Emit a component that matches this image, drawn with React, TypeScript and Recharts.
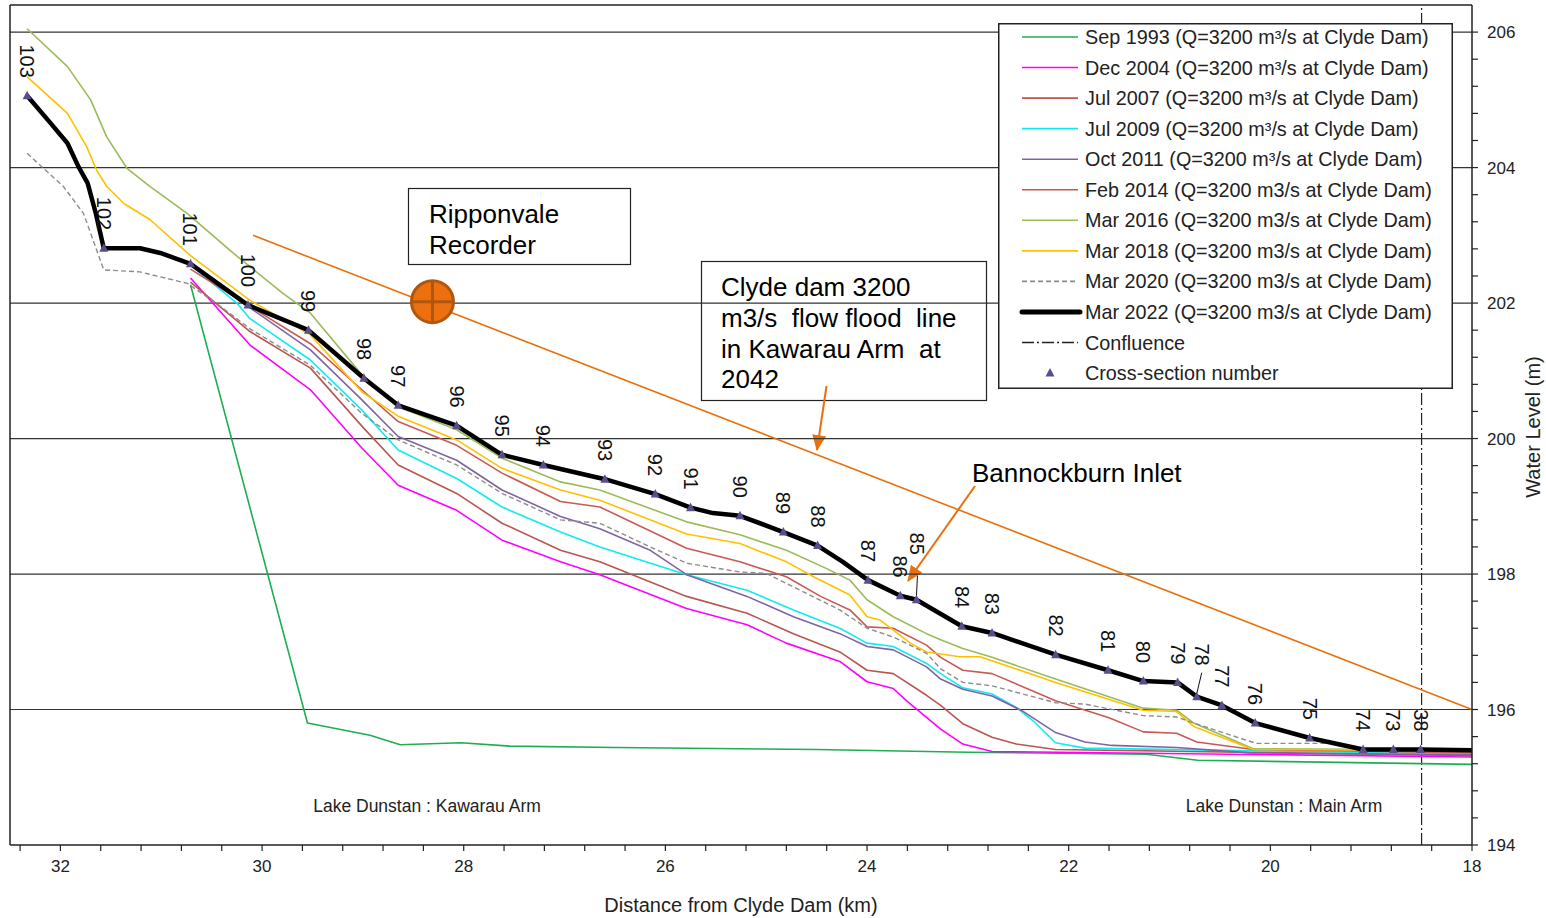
import React from 'react';
import {
  ComposedChart,
  Line,
  Scatter,
  XAxis,
  YAxis,
  ReferenceLine,
  ReferenceDot,
  Legend,
} from 'recharts';

// water level (m) against distance from Clyde Dam (km)
type Row = [number, number];

const SEP_1993: Row[] = [
  [30.71, 202.27], [29.55, 195.8], [28.93, 195.62], [28.63, 195.48], [28.03, 195.51],
  [27.54, 195.46], [26.5, 195.44], [24.5, 195.41], [23.0, 195.37], [21.23, 195.34],
  [20.72, 195.25], [18.0, 195.19],
];

const DEC_2004: Row[] = [
  [30.71, 202.37], [30.12, 201.38], [29.52, 200.72], [29.01, 199.86], [28.65, 199.31],
  [28.07, 198.94], [27.62, 198.5], [27.04, 198.18], [26.65, 197.99], [25.79, 197.49],
  [25.19, 197.25], [24.8, 196.98], [24.27, 196.71], [24.0, 196.41], [23.74, 196.31],
  [23.61, 196.13], [23.27, 195.71], [23.05, 195.49], [22.76, 195.38], [18.0, 195.3],
];

const JUL_2007: Row[] = [
  [30.71, 202.31], [30.12, 201.58], [29.52, 201.04], [28.99, 200.15], [28.65, 199.61],
  [28.07, 199.19], [27.62, 198.75], [27.04, 198.35], [26.65, 198.18], [25.79, 197.67],
  [25.19, 197.42], [24.73, 197.12], [24.27, 196.85], [24.0, 196.58], [23.74, 196.53],
  [23.41, 196.21], [23.27, 196.06], [23.05, 195.79], [22.76, 195.59], [22.52, 195.49],
  [22.13, 195.41], [18.0, 195.32],
];

const JUL_2009: Row[] = [
  [30.71, 202.56], [30.25, 202.0], [30.12, 201.77], [29.52, 201.16], [29.01, 200.42],
  [28.65, 199.83], [28.07, 199.41], [27.62, 198.99], [27.04, 198.62], [26.65, 198.4],
  [25.79, 197.99], [25.19, 197.76], [24.73, 197.47], [24.27, 197.2], [24.0, 196.98],
  [23.74, 196.93], [23.41, 196.68], [23.27, 196.53], [23.05, 196.32], [22.76, 196.23],
  [22.52, 196.03], [22.35, 195.83], [22.13, 195.51], [21.84, 195.43], [18.0, 195.34],
];

const OCT_2011: Row[] = [
  [30.71, 202.56], [30.14, 201.95], [29.52, 201.31], [29.01, 200.57], [28.65, 200.03],
  [28.07, 199.68], [27.62, 199.24], [27.04, 198.85], [26.65, 198.67], [26.15, 198.35],
  [25.79, 197.99], [25.19, 197.67], [24.73, 197.37], [24.27, 197.12], [24.0, 196.93],
  [23.74, 196.88], [23.41, 196.63], [23.27, 196.45], [23.05, 196.3], [22.76, 196.2],
  [22.46, 195.98], [22.13, 195.66], [21.84, 195.52], [21.57, 195.47], [20.93, 195.44],
  [20.2, 195.36], [18.0, 195.33],
];

const FEB_2014: Row[] = [
  [30.71, 202.5], [30.12, 201.95], [29.52, 201.4], [29.01, 200.72], [28.65, 200.25],
  [28.07, 199.9], [27.62, 199.49], [27.04, 199.07], [26.65, 198.99], [25.79, 198.38],
  [25.26, 198.18], [24.8, 197.96], [24.46, 197.67], [24.17, 197.47], [24.0, 197.22],
  [23.74, 197.2], [23.41, 196.95], [23.27, 196.77], [23.05, 196.58], [22.76, 196.53],
  [22.13, 196.13], [21.6, 195.88], [21.26, 195.67], [20.93, 195.65], [20.73, 195.52],
  [20.17, 195.41], [18.0, 195.36],
];

const MAR_2016: Row[] = [
  [32.33, 206.05], [31.93, 205.49], [31.7, 205.0], [31.54, 204.45], [31.34, 203.99],
  [31.11, 203.72], [30.74, 203.32], [30.28, 202.73], [29.79, 202.14], [29.52, 201.85],
  [29.01, 200.94], [28.65, 200.47], [28.07, 200.13], [27.62, 199.71], [27.04, 199.36],
  [26.65, 199.24], [25.79, 198.77], [25.26, 198.58], [24.8, 198.35], [24.4, 198.08],
  [24.17, 197.91], [24.0, 197.62], [23.74, 197.37], [23.41, 197.12], [23.27, 197.03],
  [23.05, 196.9], [22.76, 196.77], [22.13, 196.45], [21.26, 196.02], [20.93, 195.99],
  [20.76, 195.8], [20.17, 195.42], [18.0, 195.4],
];

const MAR_2018: Row[] = [
  [32.33, 205.34], [31.93, 204.8], [31.74, 204.31], [31.64, 203.96], [31.54, 203.72],
  [31.37, 203.47], [31.11, 203.23], [30.71, 202.7], [30.12, 202.04], [29.52, 201.53],
  [29.01, 200.69], [28.65, 200.33], [28.07, 199.98], [27.62, 199.56], [27.04, 199.24],
  [26.65, 199.09], [25.79, 198.59], [25.26, 198.45], [24.8, 198.18], [24.53, 197.96],
  [24.17, 197.69], [24.0, 197.37], [23.87, 197.32], [23.57, 196.98], [23.41, 196.85],
  [23.08, 196.78], [22.88, 196.78], [22.13, 196.4], [21.26, 195.99], [20.93, 195.97],
  [20.76, 195.75], [20.17, 195.41], [18.0, 195.4],
];

const MAR_2020: Row[] = [
  [32.33, 204.21], [31.97, 203.72], [31.77, 203.32], [31.57, 202.49], [31.21, 202.46],
  [30.74, 202.29], [30.41, 201.95], [30.12, 201.62], [29.52, 201.08], [29.01, 200.37],
  [28.65, 199.98], [28.07, 199.61], [27.62, 199.19], [27.04, 198.8], [26.65, 198.75],
  [26.15, 198.4], [25.79, 198.16], [25.26, 198.03], [25.0, 198.01], [24.73, 197.81],
  [24.27, 197.47], [24.0, 197.2], [23.74, 197.07], [23.41, 196.83], [23.27, 196.6],
  [23.05, 196.4], [22.76, 196.35], [22.13, 196.1], [21.84, 196.08], [21.26, 195.91],
  [20.93, 195.89], [20.76, 195.8], [20.14, 195.5], [19.31, 195.5], [19.11, 195.41],
  [18.0, 195.4],
];

// third value = cross-section number where the section sits on the profile
const MAR_2022: [number, number, number?][] = [
  [32.33, 205.06, 103], [32.1, 204.66], [31.93, 204.36], [31.82, 204.01], [31.73, 203.77],
  [31.65, 203.33], [31.57, 202.81, 102], [31.21, 202.81], [31.01, 202.74], [30.71, 202.58, 101],
  [30.14, 201.97, 100], [29.54, 201.6, 99], [28.99, 200.89, 98], [28.65, 200.49, 97],
  [28.07, 200.19, 96], [27.62, 199.76, 95], [27.21, 199.61, 94], [26.6, 199.4, 93],
  [26.1, 199.18, 92], [25.75, 198.98, 91], [25.53, 198.9], [25.26, 198.86, 90],
  [24.83, 198.62, 89], [24.49, 198.42, 88], [24.24, 198.18], [23.99, 197.91, 87],
  [23.67, 197.68, 86], [23.51, 197.62, 85], [23.06, 197.23, 84], [22.76, 197.13, 83],
  [22.13, 196.81, 82], [21.61, 196.58, 81], [21.26, 196.42, 80], [20.92, 196.4, 79],
  [20.73, 196.19, 78], [20.48, 196.06, 77], [20.15, 195.8, 76], [19.61, 195.58, 75],
  [19.08, 195.41, 74], [18.78, 195.41, 73], [18.51, 195.41, 38], [18.0, 195.4],
];

const FLOOD_LINE_2042 = [
  { x: 30.09, y: 203.0 },
  { x: 18.0, y: 196.0 },
];
const RIPPONVALE = { km: 28.31, wl: 202.02 };
const CONFLUENCE_KM = 18.5;

const GRID_LEVELS = [196, 198, 200, 202, 204, 206];
const X_TICKS = Array.from({ length: 37 }, (_, i) => +(18 + i * 0.4).toFixed(1));
const Y_TICKS = Array.from({ length: 31 }, (_, i) => +(194 + i * 0.4).toFixed(1));

const FONT = "'Liberation Sans', Arial, Helvetica, sans-serif";
const ORANGE = '#E8700E';
const INK = '#222';

const toPoints = (rows: [number, number, number?][]) =>
  rows.map(([km, wl, xs]) => ({ km, wl, xs }));

const SERIES = [
  { name: 'Sep 1993 (Q=3200 m³/s at Clyde Dam)', rows: SEP_1993, color: '#1EAE52', width: 1.6 },
  { name: 'Dec 2004 (Q=3200 m³/s at Clyde Dam)', rows: DEC_2004, color: '#FF00FF', width: 1.6 },
  { name: 'Jul 2007 (Q=3200 m³/s at Clyde Dam)', rows: JUL_2007, color: '#B9564F', width: 1.6 },
  { name: 'Jul 2009 (Q=3200 m³/s at Clyde Dam)', rows: JUL_2009, color: '#10EAF0', width: 1.6 },
  { name: 'Oct 2011 (Q=3200 m³/s at Clyde Dam)', rows: OCT_2011, color: '#8064A2', width: 1.6 },
  { name: 'Feb 2014 (Q=3200 m3/s at Clyde Dam)', rows: FEB_2014, color: '#C85A55', width: 1.6 },
  { name: 'Mar 2016 (Q=3200 m3/s at Clyde Dam)', rows: MAR_2016, color: '#9BBB59', width: 1.6 },
  { name: 'Mar 2018 (Q=3200 m3/s at Clyde Dam)', rows: MAR_2018, color: '#FFC000', width: 1.6 },
  { name: 'Mar 2020 (Q=3200 m3/s at Clyde Dam)', rows: MAR_2020, color: '#8C8C8C', width: 1.4, dash: '5 3' },
  { name: 'Mar 2022 (Q=3200 m3/s at Clyde Dam)', rows: MAR_2022, color: '#000', width: 4.5 },
];

const SECTIONS = toPoints(MAR_2022).filter((p) => p.xs != null);
// a couple of section labels are lifted off the line with a short leader
const LABEL_NUDGE: Record<number, { dx: number; lift: number }> = {
  85: { dx: 1, lift: 27 },
  78: { dx: 5, lift: 13 },
};

const isMajor = (v: number) => Math.abs(v / 2 - Math.round(v / 2)) < 1e-6;

function XTick({ x, y, payload }: any) {
  const v = payload.value;
  return (
    <g>
      <line x1={x} y1={y} x2={x} y2={y + 6} stroke={INK} strokeWidth={1.2} />
      {isMajor(v) && (
        <text x={x} y={y + 27} textAnchor="middle" fontSize={17} fill={INK} fontFamily={FONT}>
          {Math.round(v)}
        </text>
      )}
    </g>
  );
}

function YTick({ x, y, payload }: any) {
  const v = payload.value;
  return (
    <g>
      <line x1={x} y1={y} x2={x + 6} y2={y} stroke={INK} strokeWidth={1.2} />
      {isMajor(v) && (
        <text x={x + 15} y={y + 6} fontSize={17} fill={INK} fontFamily={FONT}>
          {Math.round(v)}
        </text>
      )}
    </g>
  );
}

const xTitle = ({ viewBox }: any) => (
  <text
    x={viewBox.x + viewBox.width / 2}
    y={viewBox.y + 67}
    textAnchor="middle"
    fontSize={20}
    fill={INK}
    fontFamily={FONT}
  >
    Distance from Clyde Dam (km)
  </text>
);

const yTitle = ({ viewBox }: any) => {
  const cx = viewBox.x + 61;
  const cy = viewBox.y + 422;
  return (
    <text
      x={cx}
      y={cy}
      transform={`rotate(-90, ${cx}, ${cy})`}
      textAnchor="middle"
      dy="0.35em"
      fontSize={20}
      fill={INK}
      fontFamily={FONT}
    >
      Water Level (m)
    </text>
  );
};

function SectionMark(props: any) {
  const { cx, cy, payload } = props;
  const nudge = LABEL_NUDGE[payload.xs];
  const lx = cx + (nudge ? nudge.dx : 0);
  const ly = cy - 18 - (nudge ? nudge.lift : 0);
  return (
    <g>
      {nudge && (
        <line x1={cx} y1={cy - 3} x2={lx} y2={cy - 24} stroke="#111" strokeWidth={1} />
      )}
      <polygon
        points={`${cx},${cy - 5} ${cx - 4.5},${cy + 3.5} ${cx + 4.5},${cy + 3.5}`}
        fill="#5D4C8C"
      />
      <text
        x={lx}
        y={ly}
        transform={`rotate(90, ${lx}, ${ly})`}
        textAnchor="end"
        dy="0.35em"
        fontSize={20}
        fill="#111"
        fontFamily={FONT}
      >
        {payload.xs}
      </text>
    </g>
  );
}

function RecorderMark({ cx, cy }: any) {
  const r = 21;
  return (
    <g>
      <circle cx={cx} cy={cy} r={r} fill="#EC7010" stroke="#B0560E" strokeWidth={3} />
      <line x1={cx - r} y1={cy} x2={cx + r} y2={cy} stroke="#B0560E" strokeWidth={3} />
      <line x1={cx} y1={cy - r} x2={cx} y2={cy + r} stroke="#B0560E" strokeWidth={3} />
    </g>
  );
}

function ChartLegend() {
  const rows = [
    ...SERIES.map((s) => ({ label: s.name, kind: 'line', color: s.color, width: s.width, dash: s.dash })),
    { label: 'Confluence', kind: 'confluence' },
    { label: 'Cross-section number', kind: 'marker' },
  ] as any[];
  return (
    <svg width={455} height={366} style={{ display: 'block', fontFamily: FONT }}>
      <rect x={0.75} y={0.75} width={453.5} height={364.5} fill="#fff" stroke={INK} strokeWidth={1.5} />
      {rows.map((r, i) => {
        const y = 14 + i * 30.55;
        return (
          <g key={r.label}>
            {r.kind === 'line' && (
              <line
                x1={24}
                y1={y}
                x2={r.width > 3 ? 82 : 80}
                y2={y}
                stroke={r.color}
                strokeWidth={r.width > 3 ? 5 : 1.6}
                strokeDasharray={r.dash}
                strokeLinecap={r.width > 3 ? 'round' : 'butt'}
              />
            )}
            {r.kind === 'confluence' && (
              <line x1={24} y1={y} x2={80} y2={y} stroke={INK} strokeWidth={1.3} strokeDasharray="12 3 2 3" />
            )}
            {r.kind === 'marker' && (
              <polygon points={`52,${y - 5} ${47.5},${y + 3.5} ${56.5},${y + 3.5}`} fill="#5D4C8C" />
            )}
            <text x={87} y={y + 7} fontSize={19.8} fill={INK}>
              {r.label}
            </text>
          </g>
        );
      })}
    </svg>
  );
}

export default function App() {
  return (
    <div
      style={{
        position: 'absolute',
        left: 0,
        top: 0,
        width: 1546,
        height: 918,
        background: '#fff',
        fontFamily: FONT,
      }}
    >
      <ComposedChart width={1546} height={918} margin={{ top: 5, right: 14, bottom: 18, left: 10 }}>
        <defs>
          <marker
            id="orangeHead"
            viewBox="0 0 16 14"
            refX={15}
            refY={7}
            markerWidth={16}
            markerHeight={14}
            markerUnits="userSpaceOnUse"
            orient="auto"
          >
            <path d="M0,0 L16,7 L0,14 z" fill={ORANGE} />
          </marker>
        </defs>
        <XAxis
          dataKey="km"
          type="number"
          domain={[18, 32.5]}
          reversed
          allowDataOverflow
          ticks={X_TICKS}
          interval={0}
          tick={<XTick />}
          tickLine={false}
          tickSize={0}
          tickMargin={0}
          height={55}
          axisLine={{ stroke: INK, strokeWidth: 1.5 }}
          label={xTitle}
        />
        <YAxis
          type="number"
          orientation="right"
          domain={[194, 206.4]}
          allowDataOverflow
          ticks={Y_TICKS}
          interval={0}
          tick={<YTick />}
          tickLine={false}
          tickSize={0}
          tickMargin={0}
          width={60}
          axisLine={{ stroke: INK, strokeWidth: 1.5 }}
          label={yTitle}
        />
        {GRID_LEVELS.map((v) => (
          <ReferenceLine key={v} y={v} stroke="#333" strokeWidth={1.2} />
        ))}
        <ReferenceLine y={206.4} stroke={INK} strokeWidth={1.5} />
        <ReferenceLine x={32.5} stroke={INK} strokeWidth={1.5} />
        <ReferenceLine x={CONFLUENCE_KM} stroke={INK} strokeWidth={1.2} strokeDasharray="12 3 2 3" />

        {SERIES.map((s) => (
          <Line
            key={s.name}
            name={s.name}
            data={toPoints(s.rows)}
            dataKey="wl"
            type="linear"
            stroke={s.color}
            strokeWidth={s.width}
            strokeDasharray={s.dash}
            strokeLinejoin="round"
            dot={false}
            activeDot={false}
            isAnimationActive={false}
            legendType="line"
          />
        ))}
        <Scatter
          name="Cross-section number"
          data={SECTIONS}
          dataKey="wl"
          shape={SectionMark}
          isAnimationActive={false}
        />

        <ReferenceLine segment={FLOOD_LINE_2042} stroke={ORANGE} strokeWidth={1.6} ifOverflow="visible" />
        <ReferenceDot x={RIPPONVALE.km} y={RIPPONVALE.wl} r={21} shape={RecorderMark} />

        {/* annotation boxes and arrows */}
        <g fontFamily={FONT} fill="#000">
          <rect x={408.5} y={188.5} width={222} height={76} fill="#fff" stroke={INK} strokeWidth={1.2} />
          <text x={429} y={223} fontSize={26}>Ripponvale</text>
          <text x={429} y={254} fontSize={26}>Recorder</text>

          <rect x={701.5} y={261.5} width={285} height={139} fill="#fff" stroke={INK} strokeWidth={1.2} />
          <text x={721} y={296} fontSize={26} style={{ whiteSpace: 'pre' }}>Clyde dam 3200</text>
          <text x={721} y={327} fontSize={26} style={{ whiteSpace: 'pre' }}>m3/s  flow flood  line</text>
          <text x={721} y={358} fontSize={26} style={{ whiteSpace: 'pre' }}>in Kawarau Arm  at</text>
          <text x={721} y={388} fontSize={26} style={{ whiteSpace: 'pre' }}>2042</text>
          <line x1={826.5} y1={386} x2={817} y2={450} stroke={ORANGE} strokeWidth={2} markerEnd="url(#orangeHead)" />

          <text x={972} y={482} fontSize={26}>Bannockburn Inlet</text>
          <line x1={975} y1={486} x2={908} y2={581} stroke={ORANGE} strokeWidth={2} markerEnd="url(#orangeHead)" />

          <text x={427} y={812} fontSize={17.5} fill={INK} textAnchor="middle">Lake Dunstan : Kawarau Arm</text>
          <text x={1284} y={812} fontSize={17.5} fill={INK} textAnchor="middle">Lake Dunstan : Main Arm</text>
        </g>

        <Legend
          layout="vertical"
          align="center"
          verticalAlign="middle"
          content={() => <ChartLegend />}
          wrapperStyle={{ position: 'absolute', left: 998, top: 23, width: 455, height: 366, margin: 0, padding: 0 }}
        />
      </ComposedChart>
    </div>
  );
}
